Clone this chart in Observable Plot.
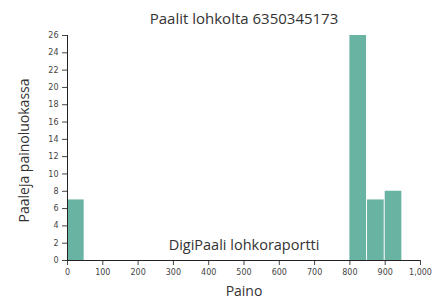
<!DOCTYPE html>
<html>
<head>
<meta charset="utf-8">
<script src="https://cdn.jsdelivr.net/npm/d3@7"></script>
<script src="https://cdn.jsdelivr.net/npm/@observablehq/plot@0.6"></script>
<style>
  html, body { margin: 0; padding: 0; background: #fff; }
</style>
</head>
<body>
<div id="chart"></div>
<script>
const binStart = [0, 800, 850, 900];
const binEnd = [50, 850, 900, 950];
const counts = [7, 26, 7, 8];
const xTicks = [0, 100, 200, 300, 400, 500, 600, 700, 800, 900, 1000];
const yTicks = [0, 2, 4, 6, 8, 10, 12, 14, 16, 18, 20, 22, 24, 26];
const title = "Paalit lohkolta 6350345173";
const xLabel = "Paino";
const yLabel = "Paaleja painoluokassa";
const watermark = "DigiPaali lohkoraportti";

const bins = binStart.map((s, i) => ({x1: s, x2: binEnd[i], y: counts[i]}));
const font = "'Open Sans', 'Segoe UI', sans-serif";

const chart = Plot.plot({
  width: 434,
  height: 300,
  marginTop: 35,
  marginBottom: 40,
  marginLeft: 67,
  marginRight: 14,
  style: {fontFamily: "'DejaVu Sans', sans-serif", fontSize: "8px", color: "#444", background: "#fff"},
  x: {domain: [0, 1000], ticks: xTicks, tickFormat: d3.format(","), label: null, tickSize: 5},
  y: {domain: [0, 26], ticks: yTicks, label: null, tickSize: 5},
  marks: [
    Plot.rect(bins, {x1: "x1", x2: "x2", y1: 0, y2: "y", fill: "#69b3a2", insetRight: 1}),
    Plot.ruleX([0], {stroke: "#222"}),
    Plot.ruleY([0], {stroke: "#222"}),
    Plot.text([title], {frameAnchor: "top", lineAnchor: "middle", dy: -16, fontSize: 15, fontFamily: font, fill: "#333"}),
    Plot.text([watermark], {frameAnchor: "bottom", lineAnchor: "middle", dy: -15, fontSize: 14.5, fontFamily: font, fill: "#333"}),
    Plot.text([xLabel], {frameAnchor: "bottom", lineAnchor: "middle", dy: 31, fontSize: 14, fontFamily: font, fill: "#333"}),
    Plot.text([yLabel], {frameAnchor: "top-left", textAnchor: "middle", lineAnchor: "middle", dx: -43, dy: 115, rotate: -90, fontSize: 14, fontFamily: font, fill: "#333"})
  ]
});
document.getElementById("chart").appendChild(chart);
</script>
</body>
</html>
